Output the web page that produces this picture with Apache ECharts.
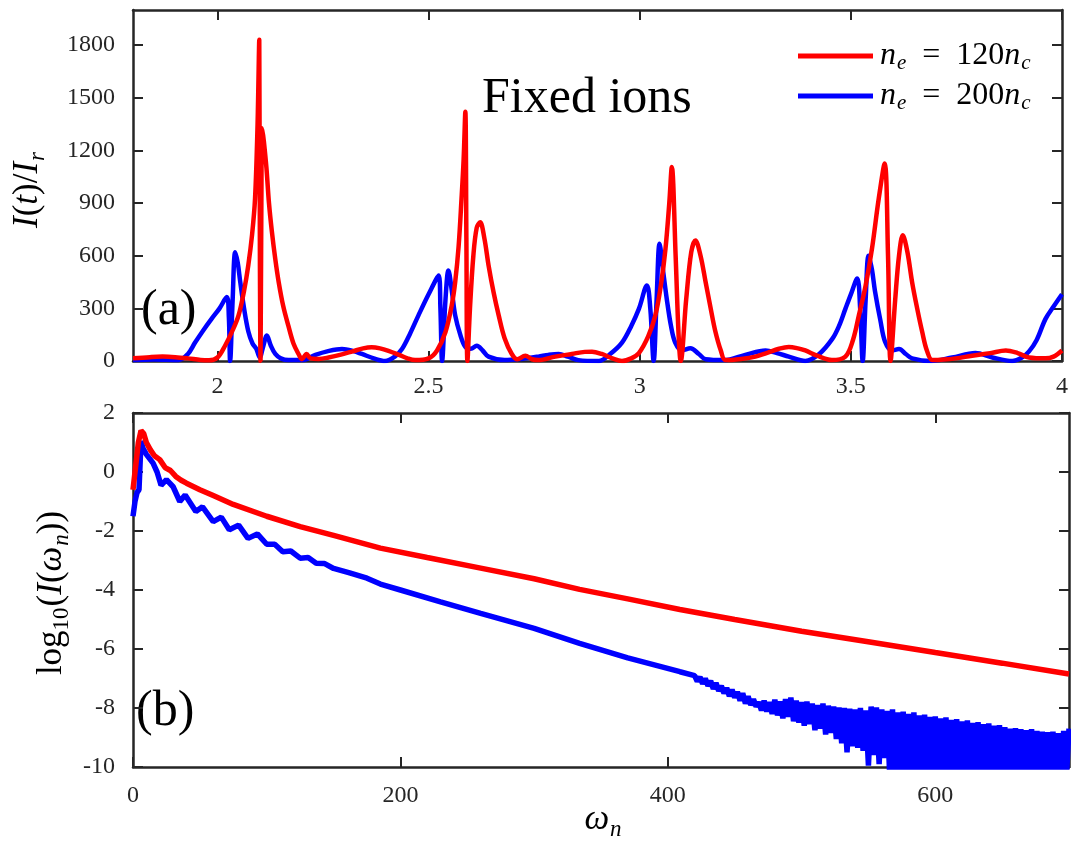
<!DOCTYPE html>
<html>
<head>
<meta charset="utf-8">
<script src="https://cdn.jsdelivr.net/npm/echarts@6/dist/echarts.min.js"></script>
<style>html,body{margin:0;padding:0;background:#fff;}#c{width:1071px;height:848px;}</style>
</head>
<body>
<div id="c"></div>
<script>
// ---------- panel (a): I(t)/I_r vs t ----------
const tRed = [1.80,1.84,1.87,1.90,1.93,1.96,1.98,2.00,2.018,2.035,2.05,2.063,2.073,2.082,2.089,2.095,2.099,2.1005,2.102,2.104,2.106,2.110,2.116,2.122,2.129,2.137,2.145,2.156,2.168,2.18,2.192,2.20,2.211,2.22,2.24,2.263,2.29,2.32,2.345,2.365,2.385,2.405,2.43,2.45,2.468,2.50,2.52,2.54,2.555,2.563,2.571,2.578,2.583,2.587,2.5895,2.592,2.598,2.606,2.614,2.622,2.632,2.642,2.654,2.666,2.68,2.697,2.71,2.729,2.745,2.76,2.80,2.839,2.87,2.887,2.91,2.935,2.958,2.98,2.998,3.02,3.037,3.05,3.061,3.07,3.076,3.085,3.092,3.097,3.11,3.122,3.132,3.144,3.156,3.168,3.179,3.192,3.203,3.24,3.274,3.30,3.33,3.353,3.375,3.392,3.42,3.455,3.487,3.505,3.519,3.535,3.55,3.566,3.58,3.588,3.594,3.605,3.614,3.623,3.634,3.645,3.657,3.669,3.68,3.693,3.72,3.748,3.787,3.83,3.867,3.895,3.922,3.961,3.98,4.00];
const vRed = [15,22,25,22,15,6,4,20,87,170,260,400,545,720,925,1350,1830,600,0,900,1326,1250,1100,900,735,580,450,310,200,100,40,10,40,15,12,20,35,55,72,78,72,58,35,15,5,15,60,165,320,450,650,925,1150,1420,700,0,300,600,760,790,700,545,390,260,130,40,10,30,10,5,25,40,52,53,40,15,0,15,45,140,260,430,640,900,1105,600,150,0,350,620,687,600,450,300,170,60,5,12,25,45,70,80,72,60,30,5,25,120,260,430,640,925,1125,600,0,350,600,716,620,450,300,165,60,5,8,15,30,45,60,45,20,15,25,60];

const tBlue = [1.80,1.85,1.908,1.93,1.947,1.965,1.986,2.005,2.022,2.027,2.030,2.036,2.042,2.048,2.054,2.063,2.073,2.083,2.092,2.100,2.108,2.117,2.126,2.137,2.15,2.168,2.20,2.232,2.26,2.295,2.32,2.342,2.37,2.397,2.42,2.437,2.455,2.476,2.50,2.524,2.528,2.532,2.54,2.547,2.555,2.563,2.575,2.587,2.60,2.614,2.628,2.642,2.68,2.72,2.76,2.784,2.808,2.83,2.855,2.903,2.93,2.958,2.98,2.998,3.017,3.025,3.033,3.04,3.047,3.055,3.064,3.074,3.084,3.10,3.12,3.14,3.156,3.20,3.25,3.298,3.325,3.353,3.392,3.425,3.456,3.472,3.487,3.50,3.515,3.522,3.528,3.535,3.542,3.55,3.557,3.57,3.581,3.597,3.614,3.63,3.645,3.69,3.74,3.795,3.835,3.882,3.905,3.922,3.94,3.961,3.98,4.00];
const vBlue = [5,8,5,40,105,170,240,300,364,250,0,350,620,560,450,300,170,100,70,20,80,145,90,40,15,5,5,35,55,68,58,40,15,0,25,68,150,260,380,487,300,0,350,516,400,260,150,80,70,87,60,25,5,12,25,35,40,25,5,0,40,105,200,297,430,300,0,350,668,520,354,200,105,60,72,40,10,5,35,60,45,25,0,40,126,200,297,380,470,300,0,350,600,520,400,230,110,60,68,40,15,0,20,45,20,0,20,55,120,240,310,380];

const tTickLabels = [2, 2.5, 3, 3.5, 4];
const iTickLabels = [0, 300, 600, 900, 1200, 1500, 1800];

// ---------- panel (b): log10(I(omega_n)) ----------
const omegaRed = [0,2,4,6,8,10,13,16,20,24,28,32,36,40,50,60,75,100,125,150,185,220,260,300,334,370,409,450,500,551,600,650,700];
const logRed = [-0.6,0.2,1.0,1.4,1.3,1.0,0.75,0.55,0.42,0.15,0.05,-0.15,-0.28,-0.38,-0.6,-0.8,-1.1,-1.5,-1.85,-2.15,-2.58,-2.9,-3.26,-3.62,-3.98,-4.3,-4.66,-5.0,-5.4,-5.76,-6.12,-6.48,-6.85];

const omegaBlue = [0,1.5,3,4.5,6,7.5,10,15,18,21,25,30,35,39,47,52,60,66,72,79,86,93,100,106,112,118,125,131,137,143,150,162,175,185,200,230,260,300,334,370,409];
const logBlue = [-1.5,-1.0,-0.7,-0.6,1.05,0.8,0.6,0.3,0.0,-0.45,-0.26,-0.5,-1.0,-0.78,-1.34,-1.18,-1.68,-1.53,-1.96,-1.8,-2.25,-2.1,-2.45,-2.45,-2.7,-2.68,-2.92,-2.9,-3.09,-3.1,-3.27,-3.42,-3.6,-3.8,-4.0,-4.4,-4.79,-5.3,-5.81,-6.3,-6.77];
// noisy tail of the blue spectrum, read every 2 units of omega from 420 to 700
const blueTailStart = 420, blueTailStep = 2;
const logBlueTail = [-6.90,-7.10,-6.95,-7.18,-7.00,-7.25,-7.08,-7.35,-7.15,-7.42,-7.25,-7.50,-7.32,-7.60,-7.38,-7.65,-7.45,-7.75,-7.50,-7.85,-7.60,-7.90,-7.70,-7.95,-7.80,-8.08,-7.75,-8.12,-7.80,-8.20,-7.72,-8.25,-7.78,-8.35,-7.70,-8.30,-7.65,-8.45,-7.75,-8.50,-7.80,-8.60,-7.78,-8.55,-7.85,-8.75,-7.90,-8.70,-7.85,-8.90,-7.92,-8.85,-7.95,-9.05,-7.98,-9.20,-8.00,-9.50,-8.02,-9.30,-8.05,-9.35,-8.00,-9.45,-8.08,-9.95,-7.95,-9.60,-7.98,-9.90,-8.05,-9.70,-8.10,-10.4,-8.05,-10.3,-8.15,-10.5,-8.12,-10.4,-8.20,-10.5,-8.15,-10.4,-8.25,-10.5,-8.22,-10.4,-8.30,-10.5,-8.28,-10.3,-8.35,-10.5,-8.32,-10.4,-8.40,-10.5,-8.38,-10.4,-8.45,-10.5,-8.42,-10.4,-8.50,-10.5,-8.48,-10.3,-8.55,-10.5,-8.52,-10.4,-8.60,-10.5,-8.58,-10.4,-8.65,-10.5,-8.70,-10.4,-8.68,-10.5,-8.72,-10.4,-8.75,-10.5,-8.72,-10.4,-8.78,-10.5,-8.80,-10.4,-8.82,-10.5,-8.80,-10.4,-8.85,-10.5,-8.78,-10.4,-8.70];

const omegaTickLabels = [0, 200, 400, 600];
const logTickLabels = [-10, -8, -6, -4, -2, 0, 2];

const seriesNames = ['r120', 'b200'];

// ---------- styles ----------
const AX = '#262626';
const SERIF = '"Liberation Serif", "Times New Roman", serif';
const axisLine = {show: true, onZero: false, lineStyle: {color: AX, width: 2.5}};
const tickStyle = {color: AX, width: 2};
const labelStyle = {fontFamily: SERIF, fontSize: 24, color: AX, formatter: v => String(v)};

function xAx(grid, min, max, ticks, pos, showLabel, margin) {
  return {
    gridIndex: grid, type: 'value', min: min, max: max, position: pos,
    axisLine: axisLine,
    axisTick: {show: true, inside: true, length: 10, customValues: ticks, lineStyle: tickStyle},
    axisLabel: Object.assign({show: showLabel, customValues: ticks, margin: margin}, labelStyle),
    splitLine: {show: false}
  };
}
function yAx(grid, min, max, ticks, pos, showLabel) {
  return {
    gridIndex: grid, type: 'value', min: min, max: max, position: pos,
    axisLine: axisLine,
    axisTick: {show: true, inside: true, length: 10, customValues: ticks, lineStyle: tickStyle},
    axisLabel: Object.assign({show: showLabel, customValues: ticks, margin: 18}, labelStyle),
    splitLine: {show: false}
  };
}

function makeRich(size, sub, pad) {
  return {
    i: {fontFamily: SERIF, fontStyle: 'italic', fontSize: size, lineHeight: size, verticalAlign: 'top', color: '#000'},
    r: {fontFamily: SERIF, fontSize: size, lineHeight: size, verticalAlign: 'top', color: '#000'},
    s: {fontFamily: SERIF, fontStyle: 'italic', fontSize: sub, lineHeight: sub, padding: [pad, 0, 0, 1], verticalAlign: 'top', color: '#000'},
    sr: {fontFamily: SERIF, fontSize: sub, lineHeight: sub, padding: [pad, 1, 0, 0], verticalAlign: 'top', color: '#000'}
  };
}
const legendRich = makeRich(32, 21, 13);
const nameRich = makeRich(35, 23, 16);

const legendText = {
  r120: '{i|n}{s|e}{r|\u2002=\u2002120}{i|n}{s|c}',
  b200: '{i|n}{s|e}{r|\u2002=\u2002200}{i|n}{s|c}'
};

const zip = (xs, ys) => xs.map((x, i) => [x, ys[i]]);
const blueBottom = zip(omegaBlue, logBlue).concat(logBlueTail.map((v, i) => [blueTailStart + blueTailStep * i, v]));

const option = {
  animation: false,
  backgroundColor: '#ffffff',
  grid: [
    {left: 133, top: 10, width: 936, height: 351},
    {left: 133, top: 413, width: 936, height: 354}
  ],
  xAxis: [
    xAx(0, 1.8, 4, tTickLabels, 'bottom', true, 14),
    xAx(0, 1.8, 4, tTickLabels, 'top', false, 14),
    xAx(1, 0, 700, omegaTickLabels, 'bottom', true, 17),
    xAx(1, 0, 700, omegaTickLabels, 'top', false, 17)
  ],
  yAxis: [
    yAx(0, 0, 2000, iTickLabels, 'left', true),
    yAx(0, 0, 2000, iTickLabels, 'right', false),
    yAx(1, -10, 2, logTickLabels, 'left', true),
    yAx(1, -10, 2, logTickLabels, 'right', false)
  ],
  legend: {
    orient: 'vertical', left: 793, top: 35, itemWidth: 75, itemHeight: 5, itemGap: 6,
    icon: 'rect', data: seriesNames, selectedMode: false,
    formatter: n => legendText[n],
    textStyle: {rich: legendRich, padding: [0, 0, 0, 2]}
  },
  series: [
    {name: 'b200', type: 'line', xAxisIndex: 0, yAxisIndex: 0, data: zip(tBlue, vBlue), showSymbol: false, symbol: 'none',
     smooth: 0.35, color: '#0000ff', lineStyle: {color: '#0000ff', width: 4.5}},
    {name: 'r120', type: 'line', xAxisIndex: 0, yAxisIndex: 0, data: zip(tRed, vRed), showSymbol: false, symbol: 'none',
     smooth: 0.35, color: '#ff0000', lineStyle: {color: '#ff0000', width: 4.5}},
    {name: 'b200', type: 'line', xAxisIndex: 2, yAxisIndex: 2, data: blueBottom, showSymbol: false, symbol: 'none',
     color: '#0000ff', lineStyle: {color: '#0000ff', width: 5.5}},
    {name: 'r120', type: 'line', xAxisIndex: 2, yAxisIndex: 2, data: zip(omegaRed, logRed), showSymbol: false, symbol: 'none',
     color: '#ff0000', lineStyle: {color: '#ff0000', width: 5.5}}
  ],
  graphic: [
    {type: 'text', x: 482, y: 99, style: {text: 'Fixed ions', fontFamily: SERIF, fontSize: 50, fill: '#000', align: 'left', verticalAlign: 'middle'}},
    {type: 'text', x: 141, y: 311, style: {text: '(a)', fontFamily: SERIF, fontSize: 50, fill: '#000', align: 'left', verticalAlign: 'middle'}},
    {type: 'text', x: 136, y: 712, style: {text: '(b)', fontFamily: SERIF, fontSize: 50, fill: '#000', align: 'left', verticalAlign: 'middle'}},
    {type: 'text', x: 28, y: 190, rotation: Math.PI / 2,
     style: {text: '{i|I}{r|(}{i|t}{r|)/}{i|I}{s|r}', rich: nameRich, align: 'center', verticalAlign: 'middle'}},
    {type: 'text', x: 52, y: 593, rotation: Math.PI / 2,
     style: {text: '{r|log}{sr|10}{r|(}{i|I}{r|(}{i|ω}{s|n}{r|))}', rich: nameRich, align: 'center', verticalAlign: 'middle'}},
    {type: 'text', x: 603, y: 820,
     style: {text: '{i|ω}{s|n}', rich: nameRich, align: 'center', verticalAlign: 'middle'}}
  ]
};

const chart = echarts.init(document.getElementById('c'), null, {renderer: 'canvas'});
chart.setOption(option);
</script>
</body>
</html>
